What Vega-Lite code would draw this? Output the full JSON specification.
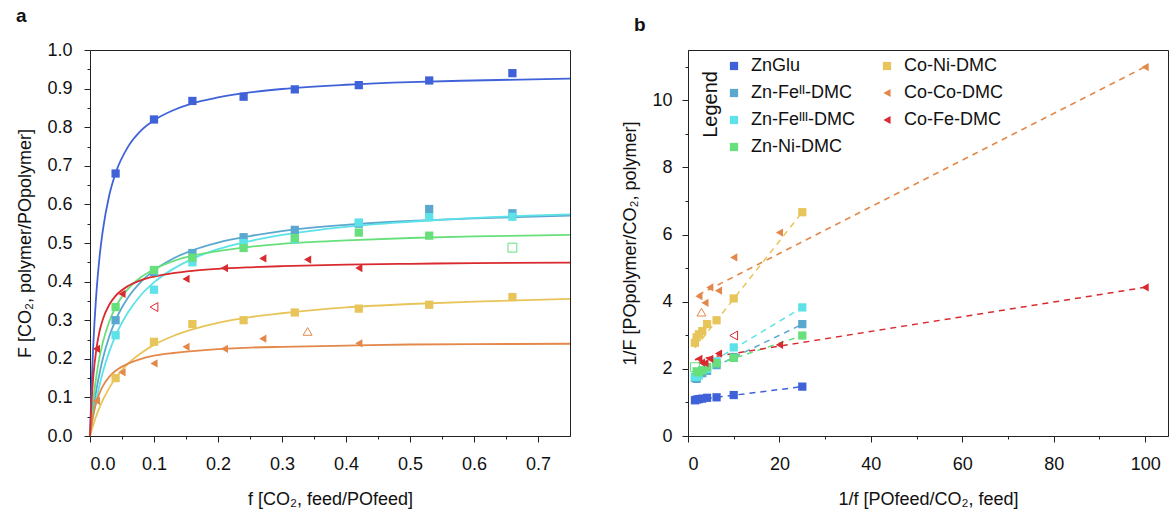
{
  "$schema": "https://vega.github.io/schema/vega-lite/v6.json",
  "background": "white",
  "padding": {"left": 15, "top": 6, "right": 0, "bottom": 0},
  "config": {
    "font": "Liberation Sans",
    "view": {"stroke": "#222", "strokeWidth": 1},
    "axis": {"domainColor": "#222", "tickColor": "#222", "labelColor": "#111", "titleColor": "#111", "labelFont": "Liberation Sans", "titleFont": "Liberation Sans", "labelFontSize": 18, "titleFontSize": 18, "titleFontWeight": "normal", "grid": false, "labelOverlap": false},
    "title": {"font": "Liberation Sans", "fontSize": 19, "fontWeight": "bold", "anchor": "start", "frame": "bounds", "color": "#111"}
  },
  "datasets": {
    "curvesA": [
      {"f": 0, "ZnGlu": 0, "Zn-Feᴵᴵ-DMC": 0, "Zn-Feᴵᴵᴵ-DMC": 0, "Zn-Ni-DMC": 0, "Co-Ni-DMC": 0, "Co-Co-DMC": 0, "Co-Fe-DMC": 0},
      {"f": 0.0025, "ZnGlu": 0.131, "Zn-Feᴵᴵ-DMC": 0.035, "Zn-Feᴵᴵᴵ-DMC": 0.027, "Zn-Ni-DMC": 0.05, "Co-Ni-DMC": 0.015, "Co-Co-DMC": 0.03, "Co-Fe-DMC": 0.09},
      {"f": 0.005, "ZnGlu": 0.231, "Zn-Feᴵᴵ-DMC": 0.066, "Zn-Feᴵᴵᴵ-DMC": 0.052, "Zn-Ni-DMC": 0.091, "Co-Ni-DMC": 0.028, "Co-Co-DMC": 0.053, "Co-Fe-DMC": 0.151},
      {"f": 0.01, "ZnGlu": 0.371, "Zn-Feᴵᴵ-DMC": 0.12, "Zn-Feᴵᴵᴵ-DMC": 0.095, "Zn-Ni-DMC": 0.156, "Co-Ni-DMC": 0.053, "Co-Co-DMC": 0.088, "Co-Fe-DMC": 0.226},
      {"f": 0.015, "ZnGlu": 0.465, "Zn-Feᴵᴵ-DMC": 0.163, "Zn-Feᴵᴵᴵ-DMC": 0.132, "Zn-Ni-DMC": 0.205, "Co-Ni-DMC": 0.074, "Co-Co-DMC": 0.111, "Co-Fe-DMC": 0.272},
      {"f": 0.02, "ZnGlu": 0.532, "Zn-Feᴵᴵ-DMC": 0.2, "Zn-Feᴵᴵᴵ-DMC": 0.165, "Zn-Ni-DMC": 0.242, "Co-Ni-DMC": 0.093, "Co-Co-DMC": 0.129, "Co-Fe-DMC": 0.302},
      {"f": 0.03, "ZnGlu": 0.623, "Zn-Feᴵᴵ-DMC": 0.257, "Zn-Feᴵᴵᴵ-DMC": 0.218, "Zn-Ni-DMC": 0.296, "Co-Ni-DMC": 0.124, "Co-Co-DMC": 0.153, "Co-Fe-DMC": 0.34},
      {"f": 0.04, "ZnGlu": 0.681, "Zn-Feᴵᴵ-DMC": 0.3, "Zn-Feᴵᴵᴵ-DMC": 0.26, "Zn-Ni-DMC": 0.334, "Co-Ni-DMC": 0.15, "Co-Co-DMC": 0.169, "Co-Fe-DMC": 0.363},
      {"f": 0.06, "ZnGlu": 0.751, "Zn-Feᴵᴵ-DMC": 0.36, "Zn-Feᴵᴵᴵ-DMC": 0.322, "Zn-Ni-DMC": 0.382, "Co-Ni-DMC": 0.188, "Co-Co-DMC": 0.188, "Co-Fe-DMC": 0.389},
      {"f": 0.08, "ZnGlu": 0.792, "Zn-Feᴵᴵ-DMC": 0.4, "Zn-Feᴵᴵᴵ-DMC": 0.366, "Zn-Ni-DMC": 0.412, "Co-Ni-DMC": 0.215, "Co-Co-DMC": 0.2, "Co-Fe-DMC": 0.404},
      {"f": 0.1, "ZnGlu": 0.818, "Zn-Feᴵᴵ-DMC": 0.429, "Zn-Feᴵᴵᴵ-DMC": 0.398, "Zn-Ni-DMC": 0.432, "Co-Ni-DMC": 0.236, "Co-Co-DMC": 0.208, "Co-Fe-DMC": 0.413},
      {"f": 0.13, "ZnGlu": 0.844, "Zn-Feᴵᴵ-DMC": 0.46, "Zn-Feᴵᴵᴵ-DMC": 0.433, "Zn-Ni-DMC": 0.453, "Co-Ni-DMC": 0.259, "Co-Co-DMC": 0.215, "Co-Fe-DMC": 0.422},
      {"f": 0.16, "ZnGlu": 0.862, "Zn-Feᴵᴵ-DMC": 0.481, "Zn-Feᴵᴵᴵ-DMC": 0.459, "Zn-Ni-DMC": 0.467, "Co-Ni-DMC": 0.276, "Co-Co-DMC": 0.22, "Co-Fe-DMC": 0.428},
      {"f": 0.2, "ZnGlu": 0.877, "Zn-Feᴵᴵ-DMC": 0.501, "Zn-Feᴵᴵᴵ-DMC": 0.484, "Zn-Ni-DMC": 0.479, "Co-Ni-DMC": 0.293, "Co-Co-DMC": 0.225, "Co-Fe-DMC": 0.433},
      {"f": 0.25, "ZnGlu": 0.89, "Zn-Feᴵᴵ-DMC": 0.518, "Zn-Feᴵᴵᴵ-DMC": 0.505, "Zn-Ni-DMC": 0.49, "Co-Ni-DMC": 0.308, "Co-Co-DMC": 0.229, "Co-Fe-DMC": 0.437},
      {"f": 0.3, "ZnGlu": 0.899, "Zn-Feᴵᴵ-DMC": 0.531, "Zn-Feᴵᴵᴵ-DMC": 0.521, "Zn-Ni-DMC": 0.498, "Co-Ni-DMC": 0.318, "Co-Co-DMC": 0.231, "Co-Fe-DMC": 0.44},
      {"f": 0.4, "ZnGlu": 0.91, "Zn-Feᴵᴵ-DMC": 0.547, "Zn-Feᴵᴵᴵ-DMC": 0.542, "Zn-Ni-DMC": 0.507, "Co-Ni-DMC": 0.333, "Co-Co-DMC": 0.234, "Co-Fe-DMC": 0.444},
      {"f": 0.5, "ZnGlu": 0.917, "Zn-Feᴵᴵ-DMC": 0.557, "Zn-Feᴵᴵᴵ-DMC": 0.555, "Zn-Ni-DMC": 0.513, "Co-Ni-DMC": 0.342, "Co-Co-DMC": 0.237, "Co-Fe-DMC": 0.446},
      {"f": 0.6, "ZnGlu": 0.921, "Zn-Feᴵᴵ-DMC": 0.564, "Zn-Feᴵᴵᴵ-DMC": 0.565, "Zn-Ni-DMC": 0.517, "Co-Ni-DMC": 0.348, "Co-Co-DMC": 0.238, "Co-Fe-DMC": 0.448},
      {"f": 0.75, "ZnGlu": 0.926, "Zn-Feᴵᴵ-DMC": 0.571, "Zn-Feᴵᴵᴵ-DMC": 0.574, "Zn-Ni-DMC": 0.521, "Co-Ni-DMC": 0.355, "Co-Co-DMC": 0.239, "Co-Fe-DMC": 0.449}
    ],
    "ptsA": [
      {"series": "ZnGlu", "f": 0.04, "F": 0.68, "excluded": false},
      {"series": "ZnGlu", "f": 0.1, "F": 0.82, "excluded": false},
      {"series": "ZnGlu", "f": 0.16, "F": 0.868, "excluded": false},
      {"series": "ZnGlu", "f": 0.24, "F": 0.879, "excluded": false},
      {"series": "ZnGlu", "f": 0.32, "F": 0.898, "excluded": false},
      {"series": "ZnGlu", "f": 0.42, "F": 0.909, "excluded": false},
      {"series": "ZnGlu", "f": 0.53, "F": 0.921, "excluded": false},
      {"series": "ZnGlu", "f": 0.66, "F": 0.94, "excluded": false},
      {"series": "Zn-Feᴵᴵ-DMC", "f": 0.04, "F": 0.3, "excluded": false},
      {"series": "Zn-Feᴵᴵ-DMC", "f": 0.1, "F": 0.425, "excluded": false},
      {"series": "Zn-Feᴵᴵ-DMC", "f": 0.16, "F": 0.474, "excluded": false},
      {"series": "Zn-Feᴵᴵ-DMC", "f": 0.24, "F": 0.515, "excluded": false},
      {"series": "Zn-Feᴵᴵ-DMC", "f": 0.32, "F": 0.534, "excluded": false},
      {"series": "Zn-Feᴵᴵ-DMC", "f": 0.42, "F": 0.55, "excluded": false},
      {"series": "Zn-Feᴵᴵ-DMC", "f": 0.53, "F": 0.588, "excluded": false},
      {"series": "Zn-Feᴵᴵ-DMC", "f": 0.66, "F": 0.577, "excluded": false},
      {"series": "Zn-Feᴵᴵᴵ-DMC", "f": 0.04, "F": 0.261, "excluded": false},
      {"series": "Zn-Feᴵᴵᴵ-DMC", "f": 0.1, "F": 0.379, "excluded": false},
      {"series": "Zn-Feᴵᴵᴵ-DMC", "f": 0.16, "F": 0.45, "excluded": false},
      {"series": "Zn-Feᴵᴵᴵ-DMC", "f": 0.24, "F": 0.5, "excluded": false},
      {"series": "Zn-Feᴵᴵᴵ-DMC", "f": 0.32, "F": 0.51, "excluded": false},
      {"series": "Zn-Feᴵᴵᴵ-DMC", "f": 0.42, "F": 0.553, "excluded": false},
      {"series": "Zn-Feᴵᴵᴵ-DMC", "f": 0.53, "F": 0.567, "excluded": false},
      {"series": "Zn-Feᴵᴵᴵ-DMC", "f": 0.66, "F": 0.568, "excluded": false},
      {"series": "Zn-Ni-DMC", "f": 0.04, "F": 0.334, "excluded": false},
      {"series": "Zn-Ni-DMC", "f": 0.1, "F": 0.43, "excluded": false},
      {"series": "Zn-Ni-DMC", "f": 0.16, "F": 0.462, "excluded": false},
      {"series": "Zn-Ni-DMC", "f": 0.24, "F": 0.487, "excluded": false},
      {"series": "Zn-Ni-DMC", "f": 0.32, "F": 0.513, "excluded": false},
      {"series": "Zn-Ni-DMC", "f": 0.42, "F": 0.527, "excluded": false},
      {"series": "Zn-Ni-DMC", "f": 0.53, "F": 0.519, "excluded": false},
      {"series": "Zn-Ni-DMC", "f": 0.66, "F": 0.488, "excluded": true},
      {"series": "Co-Ni-DMC", "f": 0.04, "F": 0.15, "excluded": false},
      {"series": "Co-Ni-DMC", "f": 0.1, "F": 0.244, "excluded": false},
      {"series": "Co-Ni-DMC", "f": 0.16, "F": 0.29, "excluded": false},
      {"series": "Co-Ni-DMC", "f": 0.24, "F": 0.3, "excluded": false},
      {"series": "Co-Ni-DMC", "f": 0.32, "F": 0.32, "excluded": false},
      {"series": "Co-Ni-DMC", "f": 0.42, "F": 0.33, "excluded": false},
      {"series": "Co-Ni-DMC", "f": 0.53, "F": 0.34, "excluded": false},
      {"series": "Co-Ni-DMC", "f": 0.66, "F": 0.36, "excluded": false},
      {"series": "Co-Co-DMC", "f": 0.01, "F": 0.091, "excluded": false},
      {"series": "Co-Co-DMC", "f": 0.05, "F": 0.165, "excluded": false},
      {"series": "Co-Co-DMC", "f": 0.1, "F": 0.188, "excluded": false},
      {"series": "Co-Co-DMC", "f": 0.15, "F": 0.231, "excluded": false},
      {"series": "Co-Co-DMC", "f": 0.21, "F": 0.226, "excluded": false},
      {"series": "Co-Co-DMC", "f": 0.27, "F": 0.252, "excluded": false},
      {"series": "Co-Co-DMC", "f": 0.34, "F": 0.271, "excluded": true},
      {"series": "Co-Co-DMC", "f": 0.42, "F": 0.24, "excluded": false},
      {"series": "Co-Fe-DMC", "f": 0.01, "F": 0.226, "excluded": false},
      {"series": "Co-Fe-DMC", "f": 0.05, "F": 0.368, "excluded": false},
      {"series": "Co-Fe-DMC", "f": 0.1, "F": 0.334, "excluded": true},
      {"series": "Co-Fe-DMC", "f": 0.15, "F": 0.407, "excluded": false},
      {"series": "Co-Fe-DMC", "f": 0.21, "F": 0.435, "excluded": false},
      {"series": "Co-Fe-DMC", "f": 0.27, "F": 0.46, "excluded": false},
      {"series": "Co-Fe-DMC", "f": 0.34, "F": 0.457, "excluded": false},
      {"series": "Co-Fe-DMC", "f": 0.42, "F": 0.435, "excluded": false}
    ],
    "ptsB": [
      {"series": "ZnGlu", "u": 25, "v": 1.471, "excluded": false},
      {"series": "ZnGlu", "u": 10, "v": 1.22, "excluded": false},
      {"series": "ZnGlu", "u": 6.25, "v": 1.152, "excluded": false},
      {"series": "ZnGlu", "u": 4.167, "v": 1.138, "excluded": false},
      {"series": "ZnGlu", "u": 3.125, "v": 1.114, "excluded": false},
      {"series": "ZnGlu", "u": 2.381, "v": 1.1, "excluded": false},
      {"series": "ZnGlu", "u": 1.887, "v": 1.086, "excluded": false},
      {"series": "ZnGlu", "u": 1.515, "v": 1.064, "excluded": false},
      {"series": "Zn-Feᴵᴵ-DMC", "u": 25, "v": 3.333, "excluded": false},
      {"series": "Zn-Feᴵᴵ-DMC", "u": 10, "v": 2.353, "excluded": false},
      {"series": "Zn-Feᴵᴵ-DMC", "u": 6.25, "v": 2.11, "excluded": false},
      {"series": "Zn-Feᴵᴵ-DMC", "u": 4.167, "v": 1.942, "excluded": false},
      {"series": "Zn-Feᴵᴵ-DMC", "u": 3.125, "v": 1.873, "excluded": false},
      {"series": "Zn-Feᴵᴵ-DMC", "u": 2.381, "v": 1.818, "excluded": false},
      {"series": "Zn-Feᴵᴵ-DMC", "u": 1.887, "v": 1.701, "excluded": false},
      {"series": "Zn-Feᴵᴵ-DMC", "u": 1.515, "v": 1.733, "excluded": false},
      {"series": "Zn-Feᴵᴵᴵ-DMC", "u": 25, "v": 3.831, "excluded": false},
      {"series": "Zn-Feᴵᴵᴵ-DMC", "u": 10, "v": 2.639, "excluded": false},
      {"series": "Zn-Feᴵᴵᴵ-DMC", "u": 6.25, "v": 2.222, "excluded": false},
      {"series": "Zn-Feᴵᴵᴵ-DMC", "u": 4.167, "v": 2.0, "excluded": false},
      {"series": "Zn-Feᴵᴵᴵ-DMC", "u": 3.125, "v": 1.961, "excluded": false},
      {"series": "Zn-Feᴵᴵᴵ-DMC", "u": 2.381, "v": 1.808, "excluded": false},
      {"series": "Zn-Feᴵᴵᴵ-DMC", "u": 1.887, "v": 1.764, "excluded": false},
      {"series": "Zn-Feᴵᴵᴵ-DMC", "u": 1.515, "v": 1.761, "excluded": false},
      {"series": "Zn-Ni-DMC", "u": 25, "v": 2.994, "excluded": false},
      {"series": "Zn-Ni-DMC", "u": 10, "v": 2.326, "excluded": false},
      {"series": "Zn-Ni-DMC", "u": 6.25, "v": 2.165, "excluded": false},
      {"series": "Zn-Ni-DMC", "u": 4.167, "v": 2.053, "excluded": false},
      {"series": "Zn-Ni-DMC", "u": 3.125, "v": 1.949, "excluded": false},
      {"series": "Zn-Ni-DMC", "u": 2.381, "v": 1.898, "excluded": false},
      {"series": "Zn-Ni-DMC", "u": 1.887, "v": 1.927, "excluded": false},
      {"series": "Zn-Ni-DMC", "u": 1.515, "v": 2.049, "excluded": true},
      {"series": "Co-Ni-DMC", "u": 25, "v": 6.667, "excluded": false},
      {"series": "Co-Ni-DMC", "u": 10, "v": 4.098, "excluded": false},
      {"series": "Co-Ni-DMC", "u": 6.25, "v": 3.448, "excluded": false},
      {"series": "Co-Ni-DMC", "u": 4.167, "v": 3.333, "excluded": false},
      {"series": "Co-Ni-DMC", "u": 3.125, "v": 3.125, "excluded": false},
      {"series": "Co-Ni-DMC", "u": 2.381, "v": 3.03, "excluded": false},
      {"series": "Co-Ni-DMC", "u": 1.887, "v": 2.941, "excluded": false},
      {"series": "Co-Ni-DMC", "u": 1.515, "v": 2.778, "excluded": false},
      {"series": "Co-Co-DMC", "u": 100, "v": 10.99, "excluded": false},
      {"series": "Co-Co-DMC", "u": 20, "v": 6.061, "excluded": false},
      {"series": "Co-Co-DMC", "u": 10, "v": 5.319, "excluded": false},
      {"series": "Co-Co-DMC", "u": 6.667, "v": 4.329, "excluded": false},
      {"series": "Co-Co-DMC", "u": 4.762, "v": 4.425, "excluded": false},
      {"series": "Co-Co-DMC", "u": 3.704, "v": 3.968, "excluded": false},
      {"series": "Co-Co-DMC", "u": 2.941, "v": 3.69, "excluded": true},
      {"series": "Co-Co-DMC", "u": 2.381, "v": 4.167, "excluded": false},
      {"series": "Co-Fe-DMC", "u": 100, "v": 4.425, "excluded": false},
      {"series": "Co-Fe-DMC", "u": 20, "v": 2.717, "excluded": false},
      {"series": "Co-Fe-DMC", "u": 10, "v": 2.994, "excluded": true},
      {"series": "Co-Fe-DMC", "u": 6.667, "v": 2.457, "excluded": false},
      {"series": "Co-Fe-DMC", "u": 4.762, "v": 2.299, "excluded": false},
      {"series": "Co-Fe-DMC", "u": 3.704, "v": 2.174, "excluded": false},
      {"series": "Co-Fe-DMC", "u": 2.941, "v": 2.188, "excluded": false},
      {"series": "Co-Fe-DMC", "u": 2.381, "v": 2.299, "excluded": false}
    ],
    "linesB": [
      {"series": "ZnGlu", "u": 1.5, "v": 1.07},
      {"series": "ZnGlu", "u": 25, "v": 1.47},
      {"series": "Zn-Feᴵᴵ-DMC", "u": 1.5, "v": 1.78},
      {"series": "Zn-Feᴵᴵ-DMC", "u": 25, "v": 3.33},
      {"series": "Zn-Feᴵᴵᴵ-DMC", "u": 1.5, "v": 1.9},
      {"series": "Zn-Feᴵᴵᴵ-DMC", "u": 25, "v": 3.83},
      {"series": "Zn-Ni-DMC", "u": 1.5, "v": 1.93},
      {"series": "Zn-Ni-DMC", "u": 25, "v": 2.99},
      {"series": "Co-Ni-DMC", "u": 1.5, "v": 2.62},
      {"series": "Co-Ni-DMC", "u": 25, "v": 6.67},
      {"series": "Co-Co-DMC", "u": 2.2, "v": 4.2},
      {"series": "Co-Co-DMC", "u": 100, "v": 11.0},
      {"series": "Co-Fe-DMC", "u": 1.5, "v": 2.27},
      {"series": "Co-Fe-DMC", "u": 100, "v": 4.43}
    ]
  },
  "resolve": {"scale": {"color": "independent", "shape": "independent", "size": "independent"}},
  "spacing": 46,
  "hconcat": [
    {
      "title": {"text": "a", "offset": 15, "dx": -1},
      "width": 480,
      "height": 386,
      "resolve": {"scale": {"color": "independent", "shape": "independent", "size": "independent"}},
      "layer": [
        {
          "data": {"name": "curvesA"},
          "transform": [{"fold": ["ZnGlu", "Zn-Feᴵᴵ-DMC", "Zn-Feᴵᴵᴵ-DMC", "Zn-Ni-DMC", "Co-Ni-DMC", "Co-Co-DMC", "Co-Fe-DMC"], "as": ["series", "F"]}],
          "mark": {"type": "line", "interpolate": "monotone", "strokeWidth": 1.8},
          "encoding": {
            "x": {"field": "f", "type": "quantitative", "scale": {"domain": [0, 0.75], "nice": false},
              "axis": {"title": "f [CO₂, feed/POfeed]", "values": [0, 0.05, 0.1, 0.15, 0.2, 0.25, 0.3, 0.35, 0.4, 0.45, 0.5, 0.55, 0.6, 0.65, 0.7],
                "tickCount": 100,
                "labelExpr": "substring(format(datum.value, '.2f'), 3, 4) === '0' ? format(datum.value, '.1f') : ''",
                "labelOverlap": false,
                "tickSize": {"condition": {"test": "substring(format(datum.value, '.2f'), 3, 4) !== '0'", "value": 3}, "value": 6},
                "labelPadding": 13, "titlePadding": 17}},
            "y": {"field": "F", "type": "quantitative", "scale": {"domain": [0, 1], "nice": false},
              "axis": {"title": "F [CO₂, polymer/POpolymer]", "values": [0, 0.05, 0.1, 0.15, 0.2, 0.25, 0.3, 0.35, 0.4, 0.45, 0.5, 0.55, 0.6, 0.65, 0.7, 0.75, 0.8, 0.85, 0.9, 0.95, 1.0],
                "tickCount": 100,
                "labelExpr": "substring(format(datum.value, '.2f'), 3, 4) === '0' ? format(datum.value, '.1f') : ''",
                "labelOverlap": false,
                "tickSize": {"condition": {"test": "substring(format(datum.value, '.2f'), 3, 4) !== '0'", "value": 3}, "value": 6},
                "labelPadding": 12, "titlePadding": 12}},
            "color": {"field": "series", "type": "nominal", "legend": null,
              "scale": {"domain": ["ZnGlu", "Zn-Feᴵᴵ-DMC", "Zn-Feᴵᴵᴵ-DMC", "Zn-Ni-DMC", "Co-Ni-DMC", "Co-Co-DMC", "Co-Fe-DMC"],
                "range": ["#3F62D9", "#5AA8CF", "#5CE2E8", "#67E07C", "#E8C55A", "#E3884A", "#D92B2F"]}}
          }
        },
        {
          "data": {"name": "ptsA"},
          "transform": [{"filter": "!datum.excluded"}],
          "mark": {"type": "point", "filled": true, "opacity": 1},
          "encoding": {
            "x": {"field": "f", "type": "quantitative"},
            "y": {"field": "F", "type": "quantitative"},
            "color": {"field": "series", "type": "nominal", "legend": null,
              "scale": {"domain": ["ZnGlu", "Zn-Feᴵᴵ-DMC", "Zn-Feᴵᴵᴵ-DMC", "Zn-Ni-DMC", "Co-Ni-DMC", "Co-Co-DMC", "Co-Fe-DMC"],
                "range": ["#3F62D9", "#5AA8CF", "#5CE2E8", "#67E07C", "#E8C55A", "#E3884A", "#D92B2F"]}},
            "shape": {"field": "series", "type": "nominal", "legend": null,
              "scale": {"domain": ["ZnGlu", "Zn-Feᴵᴵ-DMC", "Zn-Feᴵᴵᴵ-DMC", "Zn-Ni-DMC", "Co-Ni-DMC", "Co-Co-DMC", "Co-Fe-DMC"],
                "range": ["square", "square", "square", "square", "square", "triangle-left", "triangle-left"]}},
            "size": {"field": "series", "type": "nominal", "legend": null,
              "scale": {"domain": ["ZnGlu", "Zn-Feᴵᴵ-DMC", "Zn-Feᴵᴵᴵ-DMC", "Zn-Ni-DMC", "Co-Ni-DMC", "Co-Co-DMC", "Co-Fe-DMC"],
                "range": [68, 68, 68, 68, 68, 110, 110]}}
          }
        },
        {
          "data": {"name": "ptsA"},
          "transform": [{"filter": "datum.excluded"}],
          "mark": {"type": "point", "filled": false, "opacity": 1, "size": 80, "strokeWidth": 1},
          "encoding": {
            "x": {"field": "f", "type": "quantitative"},
            "y": {"field": "F", "type": "quantitative"},
            "color": {"field": "series", "type": "nominal", "legend": null,
              "scale": {"domain": ["Zn-Ni-DMC", "Co-Co-DMC", "Co-Fe-DMC"], "range": ["#67E07C", "#E3884A", "#D92B2F"]}},
            "shape": {"field": "series", "type": "nominal", "legend": null,
              "scale": {"domain": ["Zn-Ni-DMC", "Co-Co-DMC", "Co-Fe-DMC"], "range": ["square", "triangle-up", "triangle-left"]}}
          }
        }
      ]
    },
    {
      "title": {"text": "b", "offset": 15, "dx": 12},
      "width": 480,
      "height": 386,
      "resolve": {"scale": {"color": "independent", "shape": "independent", "size": "independent"}},
      "layer": [
        {
          "data": {"name": "linesB"},
          "mark": {"type": "line", "strokeWidth": 1.5, "strokeDash": [6, 5]},
          "encoding": {
            "x": {"field": "u", "type": "quantitative", "scale": {"domain": [0, 105], "nice": false},
              "axis": {"title": "1/f [POfeed/CO₂, feed]", "values": [0, 10, 20, 30, 40, 50, 60, 70, 80, 90, 100],
                "tickCount": 100,
                "labelExpr": "datum.value % 20 === 0 ? format(datum.value, 'd') : ''",
                "labelOverlap": false,
                "tickSize": {"condition": {"test": "datum.value % 20 !== 0", "value": 3}, "value": 6},
                "labelPadding": 13, "titlePadding": 17}},
            "y": {"field": "v", "type": "quantitative", "scale": {"domain": [0, 11.5], "nice": false},
              "axis": {"title": "1/F [POpolymer/CO₂, polymer]", "values": [0, 1, 2, 3, 4, 5, 6, 7, 8, 9, 10, 11],
                "tickCount": 100,
                "labelExpr": "datum.value % 2 === 0 ? format(datum.value, 'd') : ''",
                "labelOverlap": false,
                "tickSize": {"condition": {"test": "datum.value % 2 !== 0", "value": 3}, "value": 6},
                "labelPadding": 10, "titlePadding": 12}},
            "color": {"field": "series", "type": "nominal", "legend": null,
              "scale": {"domain": ["ZnGlu", "Zn-Feᴵᴵ-DMC", "Zn-Feᴵᴵᴵ-DMC", "Zn-Ni-DMC", "Co-Ni-DMC", "Co-Co-DMC", "Co-Fe-DMC"],
                "range": ["#3F62D9", "#5AA8CF", "#5CE2E8", "#67E07C", "#E8C55A", "#E3884A", "#D92B2F"]}}
          }
        },
        {
          "data": {"name": "ptsB"},
          "transform": [{"filter": "!datum.excluded"}],
          "mark": {"type": "point", "filled": true, "opacity": 1},
          "encoding": {
            "x": {"field": "u", "type": "quantitative"},
            "y": {"field": "v", "type": "quantitative"},
            "color": {"field": "series", "type": "nominal",
              "scale": {"domain": ["ZnGlu", "Zn-Feᴵᴵ-DMC", "Zn-Feᴵᴵᴵ-DMC", "Zn-Ni-DMC", "Co-Ni-DMC", "Co-Co-DMC", "Co-Fe-DMC"],
                "range": ["#3F62D9", "#5AA8CF", "#5CE2E8", "#67E07C", "#E8C55A", "#E3884A", "#D92B2F"]},
              "legend": {"orient": "none", "legendX": 37, "legendY": 7, "columns": 2, "title": null, "labelFont": "Liberation Sans", "labelFontSize": 18, "labelColor": "#111", "symbolSize": 56, "rowPadding": 9, "columnPadding": 22, "labelOffset": 8, "symbolStrokeWidth": 0}},
            "shape": {"field": "series", "type": "nominal",
              "scale": {"domain": ["ZnGlu", "Zn-Feᴵᴵ-DMC", "Zn-Feᴵᴵᴵ-DMC", "Zn-Ni-DMC", "Co-Ni-DMC", "Co-Co-DMC", "Co-Fe-DMC"],
                "range": ["square", "square", "square", "square", "square", "triangle-left", "triangle-left"]},
              "legend": {"orient": "none", "legendX": 37, "legendY": 7, "columns": 2, "title": null, "labelFont": "Liberation Sans", "labelFontSize": 18, "labelColor": "#111", "symbolSize": 56, "rowPadding": 9, "columnPadding": 22, "labelOffset": 8, "symbolStrokeWidth": 0}},
            "size": {"field": "series", "type": "nominal", "legend": null,
              "scale": {"domain": ["ZnGlu", "Zn-Feᴵᴵ-DMC", "Zn-Feᴵᴵᴵ-DMC", "Zn-Ni-DMC", "Co-Ni-DMC", "Co-Co-DMC", "Co-Fe-DMC"],
                "range": [68, 68, 68, 68, 68, 110, 110]}}
          }
        },
        {
          "data": {"name": "ptsB"},
          "transform": [{"filter": "datum.excluded"}],
          "mark": {"type": "point", "filled": false, "opacity": 1, "size": 80, "strokeWidth": 1},
          "encoding": {
            "x": {"field": "u", "type": "quantitative"},
            "y": {"field": "v", "type": "quantitative"},
            "color": {"field": "series", "type": "nominal", "legend": null,
              "scale": {"domain": ["Zn-Ni-DMC", "Co-Co-DMC", "Co-Fe-DMC"], "range": ["#67E07C", "#E3884A", "#D92B2F"]}},
            "shape": {"field": "series", "type": "nominal", "legend": null,
              "scale": {"domain": ["Zn-Ni-DMC", "Co-Co-DMC", "Co-Fe-DMC"], "range": ["square", "triangle-up", "triangle-left"]}}
          }
        },
        {
          "data": {"values": [{"label": "Legend"}]},
          "mark": {"type": "text", "angle": 270, "fontSize": 20, "font": "Liberation Sans", "align": "center", "baseline": "middle", "color": "#111"},
          "encoding": {
            "x": {"datum": 5.0, "type": "quantitative"},
            "y": {"datum": 9.88, "type": "quantitative"},
            "text": {"field": "label"}
          }
        }
      ]
    }
  ]
}
